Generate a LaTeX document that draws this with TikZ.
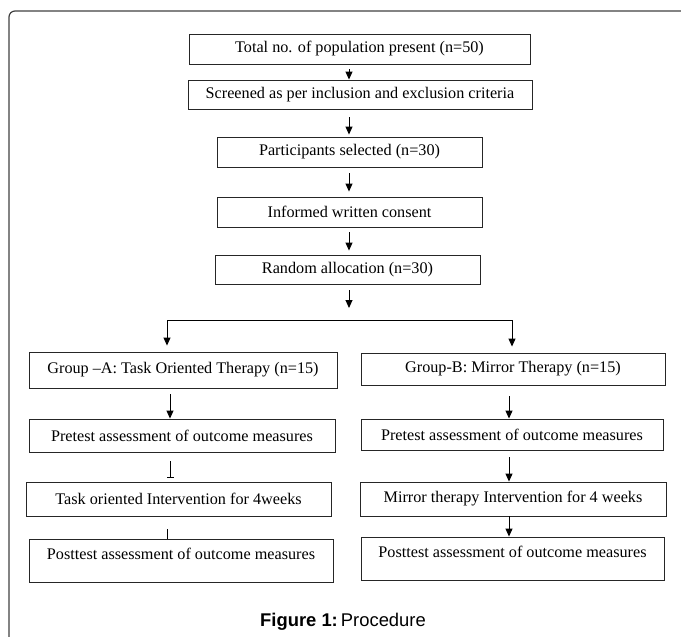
\documentclass[tikz,border=0pt]{standalone}
\usepackage{fontspec}
\setmainfont{Liberation Serif}
\newfontfamily\capfont{Liberation Sans}
\usetikzlibrary{arrows.meta,calc}
\begin{document}
\begin{tikzpicture}[x=1pt,y=-1pt,
  box/.style={draw=black!85, line width=0.9pt, rectangle, inner sep=0pt,
    font=\fontsize{16.2}{19}\selectfont},
  tallbox/.style={box, text height=20pt, text depth=23pt},
  arr/.style={draw=black, line width=1pt, -{Triangle[length=8pt,width=7pt]}},
  arrtwo/.style={draw=black, line width=1pt, {Triangle[length=8pt,width=7pt]}-{Triangle[length=8pt,width=7pt]}},
  barline/.style={draw=black, line width=1pt, -{Bar[width=7pt,line width=1pt]}},
  ln/.style={draw=black, line width=1pt},
  frame/.style={draw=black!75, line width=1.2pt, rounded corners=6pt}
]
\useasboundingbox (0,0) rectangle (681,637);
\draw[frame] (9,637) -- (9,11) -- (681,11);

% top column
\node[box, minimum width=341, minimum height=30] (b1) at (359.5,49) {Total no. of population present (n=50)};
\node[box, minimum width=344, minimum height=29] (b2) at (360,94.5) {Screened as per inclusion and exclusion criteria};
\node[box, minimum width=265, minimum height=30] (b3) at (349.5,152) {Participants selected (n=30)};
\node[box, minimum width=265, minimum height=30] (b4) at (349.5,212) {Informed written consent};
\node[box, minimum width=265, minimum height=29] (b5) at (347.5,269.5) {Random allocation (n=30)};

% left column
\node[box, minimum width=308, minimum height=36] (gA) at (183,370) {Group --A: Task Oriented Therapy (n=15)};
\node[box, minimum width=306, minimum height=33] (pA) at (182,435.5) {Pretest assessment of outcome measures};
\node[box, minimum width=305, minimum height=34] (tA) at (178.5,499) {Task oriented Intervention for 4weeks};
\node[tallbox, minimum width=304] (oA) at (181,560.5) {Posttest assessment of outcome measures};

% right column
\node[box, minimum width=304, minimum height=32] (gB) at (513,369) {Group-B: Mirror Therapy (n=15)};
\node[box, minimum width=302, minimum height=31] (pB) at (512,434.5) {Pretest assessment of outcome measures};
\node[box, minimum width=306, minimum height=34] (mB) at (513,499) {Mirror therapy Intervention for 4 weeks};
\node[tallbox, minimum width=303] (oB) at (512.5,558.5) {Posttest assessment of outcome measures};

% caption
\node[font=\capfont\fontsize{18.4}{22}\selectfont] (cap) at (343,622) {\textbf{Figure 1:}\,Procedure};

% helper coordinates
\coordinate (cx) at (349,0);
\coordinate (sp) at (349,308);
\coordinate (jl) at (167,320);
\coordinate (jr) at (512,320);
\coordinate (cA) at (170,0);
\coordinate (cAb) at (167,0);
\coordinate (cB) at (509,0);

% connectors
\draw[arr] ($(b1.south -| cx)+(0,5)$) -- (b2.north -| cx);
\draw[arr] ($(b2.south -| cx)+(0,8)$) -- ($(b3.north -| cx)+(0,-2)$);
\draw[arr] ($(b3.south -| cx)+(0,6)$) -- ($(b4.north -| cx)+(0,-5)$);
\draw[arr] ($(b4.south -| cx)+(0,5)$) -- ($(b5.north -| cx)+(0,-4)$);
\draw[arr] ($(b5.south -| cx)+(0,6)$) -- (sp);
\draw[arrtwo] ($(gA.north -| jl)+(0,-6)$) -- (jl) -- (jr) -- ($(gB.north -| jr)+(0,-6)$);

\draw[arr] ($(gA.south -| cA)+(0,6)$) -- (pA.north -| cA);
\draw[barline] ($(pA.south -| cA)+(0,9)$) -- ($(tA.north -| cA)+(0,-4)$);
\draw[ln] ($(tA.south -| cAb)+(0,13)$) -- (oA.north -| cAb);

\draw[arr] ($(gB.south -| cB)+(0,11)$) -- (pB.north -| cB);
\draw[arr] ($(pB.south -| cB)+(0,7)$) -- (mB.north -| cB);
\draw[arr] (mB.south -| cB) -- (oB.north -| cB);
\end{tikzpicture}
\end{document}
